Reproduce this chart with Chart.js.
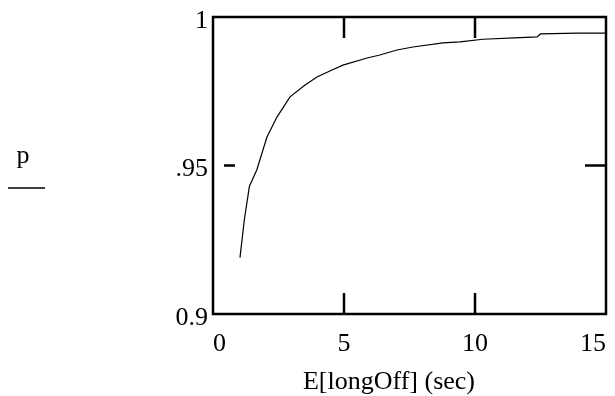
<!DOCTYPE html>
<html>
<head>
<meta charset="utf-8">
<script src="https://cdn.jsdelivr.net/npm/chart.js@4"></script>
<style>
  html, body { margin: 0; padding: 0; background: #fff; }
  #wrap { width: 615px; height: 396px; }
</style>
</head>
<body>
<div id="wrap"><canvas id="grafico"></canvas></div>
<script>
// valores
var tempos = [1.03, 1.2, 1.39, 1.67, 2.06, 2.44, 2.94, 3.5, 3.97, 4.5, 4.96, 5.88, 6.37, 7.02, 7.63, 8.78, 9.43, 10.3, 11.5, 12.37, 12.5, 13.9, 15];
var probs = [0.919, 0.932, 0.943, 0.9485, 0.9596, 0.9663, 0.9731, 0.977, 0.9798, 0.982, 0.9838, 0.9862, 0.9872, 0.9889, 0.9899, 0.9913, 0.9916, 0.9925, 0.993, 0.9933, 0.9943, 0.9946, 0.9946];
var ticksX = [0, 5, 10, 15];
var ticksY = [0.9, 0.95, 1];
var rotulosY = ['0.9', '.95', '1'];
var tituloX = 'E[longOff] (sec)';
var tituloY = 'p';

var pontos = [];
for (var i = 0; i < tempos.length; i++) {
    pontos.push({x: tempos[i], y: probs[i]});
}

var fonte = "'Liberation Serif', 'Times New Roman', serif";

// moldura, marcas internas e textos extras
var moldura = {
    id: 'moldura',
    afterDraw: function (chart) {
        var c = chart.ctx;
        var a = chart.chartArea;
        var sx = chart.scales.x;
        var sy = chart.scales.y;
        c.save();
        c.strokeStyle = '#000';
        c.lineWidth = 2.5;
        c.strokeRect(a.left, a.top, a.right - a.left, a.bottom - a.top);
        c.beginPath();
        [5, 10].forEach(function (v) {
            var px = sx.getPixelForValue(v);
            c.moveTo(px, a.top); c.lineTo(px, a.top + 21);
            c.moveTo(px, a.bottom); c.lineTo(px, a.bottom - 21);
        });
        var py = sy.getPixelForValue(0.95);
        c.moveTo(a.left + 11, py); c.lineTo(a.left + 22, py);
        c.moveTo(a.right, py); c.lineTo(a.right - 21, py);
        c.stroke();

        c.fillStyle = '#000';
        c.font = '26px ' + fonte;
        c.textAlign = 'center';
        c.textBaseline = 'middle';
        c.fillText(tituloX, 389, 382);
        c.fillText(tituloY, 23, 156);
        c.lineWidth = 1.5;
        c.beginPath();
        c.moveTo(8, 188); c.lineTo(45, 188);
        c.stroke();
        c.restore();
    }
};

function semPadding(scale) {
    scale.paddingLeft = 0;
    scale.paddingRight = 0;
    scale.paddingTop = 0;
    scale.paddingBottom = 0;
}

new Chart(document.getElementById('grafico'), {
    type: 'line',
    data: {
        datasets: [{
            data: pontos,
            borderColor: '#000',
            borderWidth: 1.2,
            pointRadius: 0,
            tension: 0,
            fill: false
        }]
    },
    options: {
        responsive: true,
        maintainAspectRatio: false,
        animation: false,
        layout: { padding: { left: 0, right: 9, top: 17, bottom: 0 } },
        plugins: {
            legend: { display: false },
            tooltip: { enabled: false }
        },
        scales: {
            x: {
                type: 'linear',
                min: 0,
                max: 15,
                afterBuildTicks: function (scale) {
                    scale.ticks = ticksX.map(function (v) { return {value: v}; });
                },
                afterFit: function (scale) {
                    scale.height = 82;
                    semPadding(scale);
                },
                grid: { display: false, drawTicks: false },
                border: { display: false },
                ticks: {
                    color: '#000',
                    padding: 15,
                    align: 'inner',
                    maxRotation: 0,
                    font: { size: 26, family: fonte }
                }
            },
            y: {
                type: 'linear',
                min: 0.9,
                max: 1,
                afterBuildTicks: function (scale) {
                    scale.ticks = ticksY.map(function (v) { return {value: v}; });
                },
                afterFit: function (scale) {
                    scale.width = 213;
                    semPadding(scale);
                },
                grid: { display: false, drawTicks: false },
                border: { display: false },
                ticks: {
                    color: '#000',
                    padding: 5,
                    labelOffset: 4,
                    font: { size: 26, family: fonte },
                    callback: function (v) {
                        var i = ticksY.indexOf(v);
                        return i >= 0 ? rotulosY[i] : '';
                    }
                }
            }
        }
    },
    plugins: [moldura]
});
</script>
</body>
</html>
